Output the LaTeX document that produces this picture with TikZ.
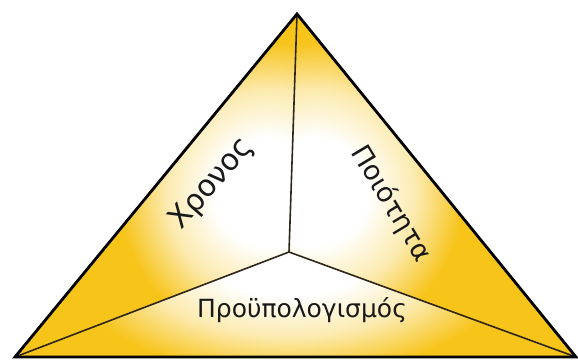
\documentclass[tikz,border=0pt]{standalone}
\usepackage{fontspec}
\setmainfont{DejaVu Sans}
\definecolor{gold}{RGB}{247,196,26}
\definecolor{edgeline}{RGB}{45,38,25}
\pgfdeclareradialshading{glow}{\pgfpoint{0bp}{0bp}}{color(0bp)=(white); color(9bp)=(white); color(17bp)=(gold!35!white); color(25bp)=(gold); color(50bp)=(gold)}
\tikzset{
  label/.style={inner sep=0pt, text=black!90},
  inner/.style={line width=1.6pt, draw=edgeline},
  outer/.style={line width=2.8pt, draw=black, line join=miter}
}
\begin{document}
\begin{tikzpicture}[x=1pt,y=-1pt]
\useasboundingbox (0,0) rectangle (578,359);
\fill[white] (0,0) rectangle (578,359);
\coordinate (A) at (297,14);
\coordinate (L) at (15,357);
\coordinate (R) at (576,357);
\coordinate (C) at (289,252);
% left face
\begin{scope}
\clip (A)--(L)--(C)--cycle;
\fill[gold] (A)--(L)--(C)--cycle;
\shade[shading=glow] (268,192) circle (150);
\end{scope}
% right face
\begin{scope}
\clip (A)--(C)--(R)--cycle;
\fill[gold] (A)--(C)--(R)--cycle;
\shade[shading=glow] (314,192) circle (150);
\end{scope}
% bottom face
\begin{scope}
\clip (L)--(C)--(R)--cycle;
\fill[gold] (L)--(C)--(R)--cycle;
\shade[shading=glow] (289,252) ellipse (230 and 125);
\end{scope}
\draw[inner] (C)--(A) (C)--(L) (C)--(R);
\draw[outer] (A)--(L)--(R)--cycle;
\node[label, rotate=49, font=\fontsize{30}{30}\selectfont] (t1) at (212,184) {Χρονος};
\node[label, rotate=-59, font=\fontsize{27}{27}\selectfont] (t2) at (391,204) {Ποιότητα};
\node[label, anchor=base, font=\fontsize{25}{25}\selectfont] (t3) at (302,317) {Προϋπολογισμός};
\end{tikzpicture}
\end{document}
